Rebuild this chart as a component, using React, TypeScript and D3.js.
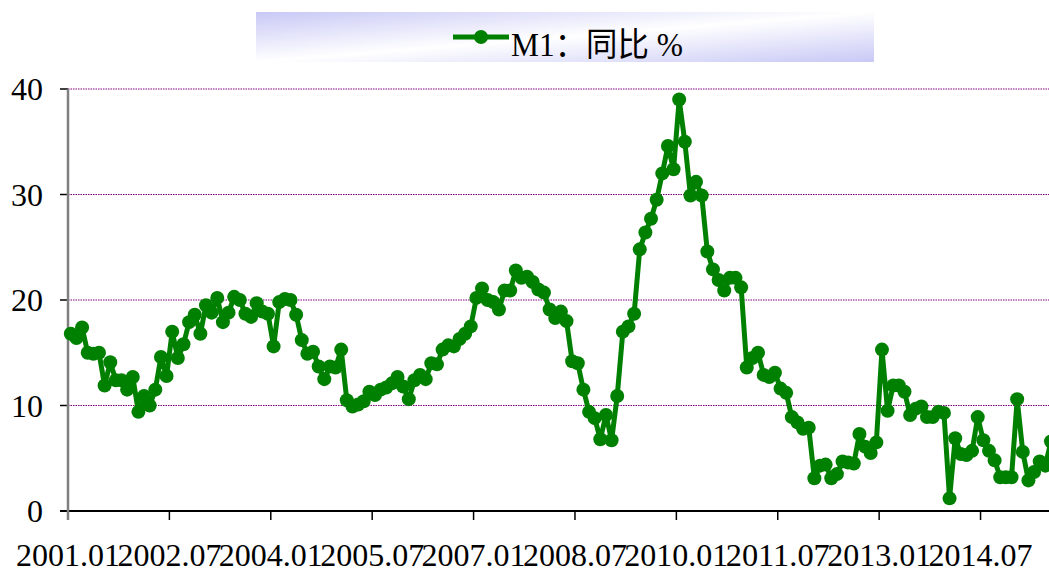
import React from "react";
import * as d3 from "d3";

const m1_2001 = [16.8, 16.4, 17.4, 15.0, 14.9, 15.0, 11.9, 14.1, 12.4, 12.4, 11.5, 12.7];
const m1_2002 = [9.4, 10.9, 10.0, 11.5, 14.6, 12.8, 17.0, 14.5, 15.8, 17.9, 18.6, 16.8];
const m1_2003 = [19.5, 18.8, 20.2, 17.9, 18.8, 20.3, 20.0, 18.7, 18.4, 19.7, 18.9, 18.7];
const m1_2004 = [15.6, 19.8, 20.1, 20.0, 18.6, 16.2, 14.9, 15.1, 13.7, 12.5, 13.7, 13.6];
const m1_2005 = [15.3, 10.5, 9.9, 10.1, 10.4, 11.3, 11.0, 11.5, 11.7, 12.1, 12.7, 11.8];
const m1_2006 = [10.6, 12.4, 12.9, 12.5, 14.0, 13.9, 15.3, 15.7, 15.6, 16.3, 16.8, 17.5];
const m1_2007 = [20.2, 21.1, 20.0, 19.8, 19.1, 20.9, 20.9, 22.8, 22.1, 22.2, 21.7, 21.0];
const m1_2008 = [20.7, 19.1, 18.3, 18.9, 18.0, 14.2, 14.0, 11.5, 9.4, 8.8, 6.8, 9.1];
const m1_2009 = [6.7, 10.9, 17.0, 17.5, 18.7, 24.8, 26.4, 27.7, 29.5, 32.0, 34.6, 32.4];
const m1_2010 = [39.0, 35.0, 29.9, 31.2, 29.9, 24.6, 22.9, 21.9, 20.9, 22.1, 22.1, 21.2];
const m1_2011 = [13.6, 14.5, 15.0, 12.9, 12.7, 13.1, 11.6, 11.2, 8.9, 8.4, 7.8, 7.9];
const m1_2012 = [3.1, 4.3, 4.4, 3.1, 3.5, 4.7, 4.6, 4.5, 7.3, 6.1, 5.5, 6.5];
const m1_2013 = [15.3, 9.5, 11.9, 11.9, 11.3, 9.1, 9.7, 9.9, 8.9, 8.9, 9.4, 9.3];
const m1_2014 = [1.2, 6.9, 5.4, 5.3, 5.7, 8.9, 6.7, 5.7, 4.8, 3.2, 3.2, 3.2];
const m1_2015 = [10.6, 5.6, 2.9, 3.7, 4.7, 4.3, 6.6];

const years = [2001, 2002, 2003, 2004, 2005, 2006, 2007, 2008, 2009, 2010, 2011, 2012, 2013, 2014, 2015];
const yearValues = [m1_2001, m1_2002, m1_2003, m1_2004, m1_2005, m1_2006, m1_2007, m1_2008, m1_2009, m1_2010, m1_2011, m1_2012, m1_2013, m1_2014, m1_2015];

const tickLabels = ["2001.01", "2002.07", "2004.01", "2005.07", "2007.01", "2008.07", "2010.01", "2011.07", "2013.01", "2014.07"];
const yTicks = [0, 10, 20, 30, 40];
const seriesName = "M1：同比 %";

type Pt = { cat: string; v: number };
const data: Pt[] = [];
yearValues.forEach((arr, yi) => {
  arr.forEach((v, mi) => {
    data.push({ cat: `${years[yi]}.${String(mi + 1).padStart(2, "0")}`, v });
  });
});
const categories = data.map((d) => d.cat);

const W = 1049;
const H = 572;
const left = 68;
const step = 5.633;
const right = left + step * categories.length;
const top = 89;
const bottom = 511;

export default function App() {
  const x = d3.scaleBand<string>().domain(categories).range([left, right]).padding(0);
  const y = d3.scaleLinear().domain([0, 40]).range([bottom, top]);
  const bw = x.bandwidth();
  const cx = (c: string) => (x(c) as number) + bw / 2;
  const line = d3
    .line<Pt>()
    .x((d) => cx(d.cat))
    .y((d) => y(d.v));
  const green = "#008000";
  const serif = "'Liberation Serif', 'Times New Roman', serif";

  return (
    <svg
      width={W}
      height={H}
      style={{ position: "absolute", left: 0, top: 0, background: "#fff" }}
    >
      <defs>
        <linearGradient id="lg" x1="0" y1="0" x2="1" y2="1">
          <stop offset="0" stopColor="#c8c8f6" />
          <stop offset="0.5" stopColor="#ffffff" />
          <stop offset="1" stopColor="#c8c8f6" />
        </linearGradient>
      </defs>
      <rect x={0} y={0} width={W} height={H} fill="#fff" />
      {/* legend */}
      <rect x={256} y={12} width={618} height={50} fill="url(#lg)" />
      <line x1={453} x2={509} y1={37} y2={37} stroke={green} strokeWidth={5} />
      <circle cx={481} cy={37} r={7} fill={green} />
      <text
        x={511}
        y={56}
        fontSize={33}
        fontFamily={`'Liberation Serif', 'Noto Sans CJK SC', serif`}
        textLength={172}
        lengthAdjust="spacingAndGlyphs"
        fill="#000"
      >
        {seriesName}
      </text>
      {/* gridlines */}
      {yTicks
        .filter((t) => t > 0)
        .map((t) => (
          <line
            key={t}
            x1={left}
            x2={right}
            y1={y(t)}
            y2={y(t)}
            stroke="#800080"
            strokeWidth={1}
            strokeDasharray="1.5,1"
          />
        ))}
      {/* y ticks and labels */}
      {yTicks.map((t) => (
        <g key={"yt" + t}>
          <line x1={60} x2={left} y1={y(t)} y2={y(t)} stroke="#000" strokeWidth={1.5} />
          <text x={43} y={y(t) + 11} textAnchor="end" fontSize={32} fontFamily={serif} fill="#000">
            {t}
          </text>
        </g>
      ))}
      {/* x axis */}
      <line x1={60} x2={right} y1={bottom} y2={bottom} stroke="#000" strokeWidth={2} />
      {tickLabels.map((lab) => {
        const tx = x(lab) as number;
        return (
          <g key={lab}>
            <line x1={tx} x2={tx} y1={bottom} y2={520} stroke="#000" strokeWidth={1.5} />
            <text
              x={tx}
              y={566}
              textAnchor="middle"
              fontSize={32}
              fontFamily={serif}
              textLength={104}
              lengthAdjust="spacingAndGlyphs"
              fill="#000"
            >
              {lab}
            </text>
          </g>
        );
      })}
      {/* y axis */}
      <line x1={left} x2={left} y1={top} y2={520} stroke="#808080" strokeWidth={2.5} />
      {/* series */}
      <path d={line(data) || ""} fill="none" stroke={green} strokeWidth={5} strokeLinejoin="round" />
      {data.map((d, i) => (
        <circle key={i} cx={cx(d.cat)} cy={y(d.v)} r={7} fill={green} />
      ))}
    </svg>
  );
}
